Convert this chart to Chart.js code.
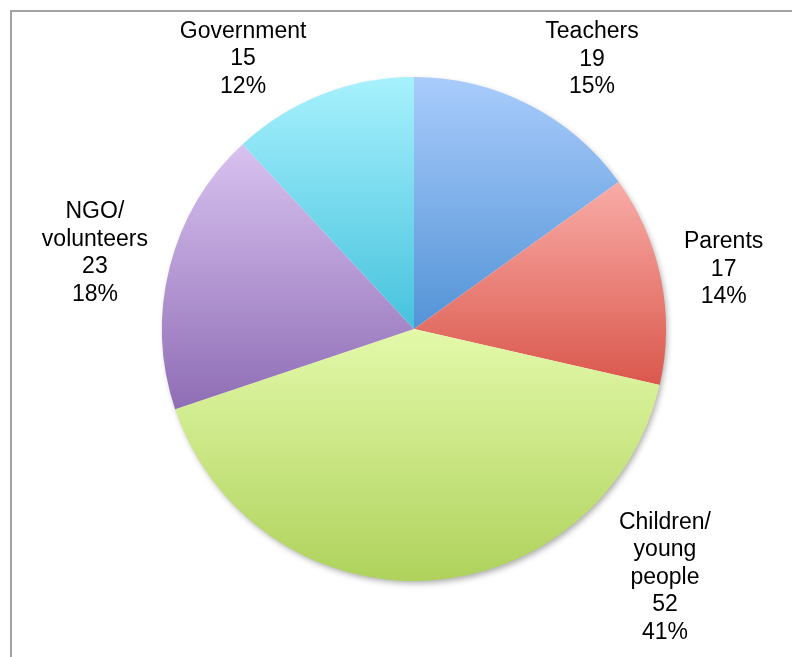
<!DOCTYPE html>
<html>
<head>
<meta charset="utf-8">
<script src="https://cdn.jsdelivr.net/npm/chart.js@4/dist/chart.umd.min.js"></script>
<style>
  html, body { margin: 0; padding: 0; background: #fff; overflow: hidden; }
  #wrap { position: relative; width: 792px; height: 657px; }
  #frame { position: absolute; left: 10px; top: 10px; width: 900px; height: 800px;
           border-left: 2px solid #a3a3a3; border-top: 2px solid #a3a3a3; }
  #pie { position: absolute; left: 0; top: 0; }
</style>
</head>
<body>
<div id="wrap">
  <div id="frame"></div>
  <canvas id="pie" width="792" height="657"></canvas>
</div>
<script>
const categories = ['Teachers', 'Parents', 'Children/ young people', 'NGO/ volunteers', 'Government']
const labelLines = [['Teachers'], ['Parents'], ['Children/', 'young', 'people'], ['NGO/', 'volunteers'], ['Government']]
const counts = [19, 17, 52, 23, 15]
const percentLabels = ['15%', '14%', '41%', '18%', '12%']
const topColors = ['#a9ccfc', '#f9aca7', '#e3f9aa', '#d8c2f0', '#a7f1fd']
const bottomColors = ['#5393d6', '#da574c', '#afd25c', '#8f6db5', '#46c2dd']

const total = counts.reduce((a, b) => a + b, 0)

// vertical gradient over each slice's own top..bottom extent
function sliceGradient(context) {
  const i = context.dataIndex
  const chart = context.chart
  const area = chart.chartArea
  if (!area) return topColors[i]
  const cx = (area.left + area.right) / 2
  const cy = (area.top + area.bottom) / 2
  const r = Math.min(area.width, area.height) / 2
  const before = counts.slice(0, i).reduce((a, b) => a + b, 0)
  const start = -Math.PI / 2 + 2 * Math.PI * before / total
  const end = start + 2 * Math.PI * counts[i] / total
  const ys = [cy, cy + r * Math.sin(start), cy + r * Math.sin(end)]
  ;[-Math.PI / 2, Math.PI / 2, 3 * Math.PI / 2].forEach(a => {
    if (a > start && a < end) ys.push(cy + r * Math.sin(a))
  })
  const g = chart.ctx.createLinearGradient(0, Math.min(...ys), 0, Math.max(...ys))
  g.addColorStop(0, topColors[i])
  g.addColorStop(1, bottomColors[i])
  return g
}

const pieShadow = {
  id: 'pieShadow',
  beforeDatasetsDraw(chart) {
    const arc = chart.getDatasetMeta(0).data[0]
    if (!arc) return
    const ctx = chart.ctx
    ctx.save()
    ctx.shadowColor = 'rgba(0,0,0,0.35)'
    ctx.shadowBlur = 6
    ctx.shadowOffsetX = 2
    ctx.shadowOffsetY = 3
    ctx.beginPath()
    ctx.arc(arc.x, arc.y, arc.outerRadius - 1, 0, Math.PI * 2)
    ctx.fillStyle = '#ffffff'
    ctx.fill()
    ctx.restore()
  }
}

// outside labels: name, value, percent, placed off each slice's mid angle
const nudges = [[32, 15], [-4, 4], [235, -71], [-9, 3], [-54, 28]]
const outsideLabels = {
  id: 'outsideLabels',
  afterDatasetsDraw(chart) {
    const ctx = chart.ctx
    const meta = chart.getDatasetMeta(0)
    ctx.save()
    ctx.font = '23px "Liberation Sans", Arial, sans-serif'
    ctx.fillStyle = '#000'
    ctx.textAlign = 'center'
    ctx.textBaseline = 'middle'
    const lineH = 27.5
    meta.data.forEach((arc, i) => {
      const mid = (arc.startAngle + arc.endAngle) / 2
      const d = arc.outerRadius + 68
      const x = arc.x + d * Math.cos(mid) + nudges[i][0]
      const y = arc.y + d * Math.sin(mid) + nudges[i][1]
      const lines = labelLines[i].concat([String(counts[i]), percentLabels[i]])
      const top = y - (lines.length - 1) * lineH / 2
      lines.forEach((t, k) => ctx.fillText(t, x, top + k * lineH))
    })
    ctx.restore()
  }
}

new Chart(document.getElementById('pie'), {
  type: 'pie',
  data: {
    labels: categories,
    datasets: [{
      data: counts,
      backgroundColor: sliceGradient,
      borderWidth: 0
    }]
  },
  options: {
    responsive: false,
    animation: false,
    events: [],
    layout: { padding: { top: 77, bottom: 76, left: 162, right: 126 } },
    plugins: {
      legend: { display: false },
      tooltip: { enabled: false }
    }
  },
  plugins: [pieShadow, outsideLabels]
})
</script>
</body>
</html>
